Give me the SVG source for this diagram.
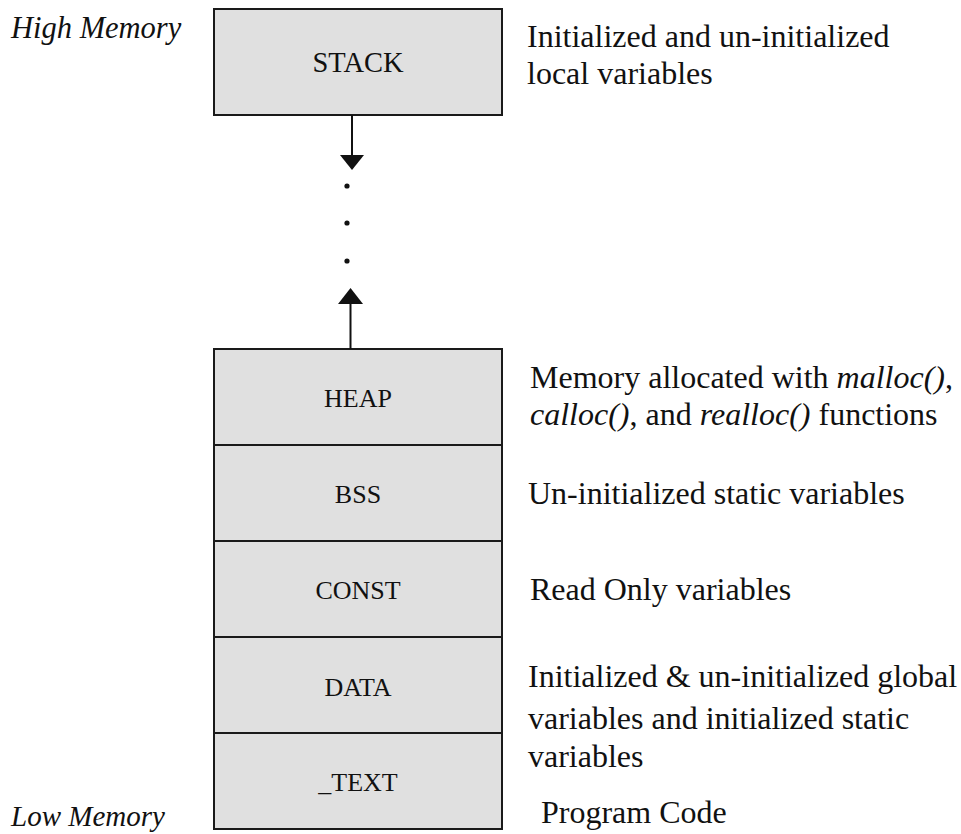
<svg xmlns="http://www.w3.org/2000/svg" width="961" height="834" viewBox="0 0 961 834">
  <style>
    .seg { fill: #e0e0e0; stroke: #1a1a1a; stroke-width: 2; }
    .lbl { font-family: "Liberation Serif", "Times New Roman", serif; font-size: 26px; fill: #111; text-anchor: middle; }
    .big { font-size: 28.5px; }
    .desc { font-family: "Liberation Serif", "Times New Roman", serif; font-size: 32px; fill: #111; }
    .side { font-family: "Liberation Serif", "Times New Roman", serif; font-style: italic; font-size: 30.5px; fill: #111; }
    .conn { stroke: #111; stroke-width: 2; fill: none; }
    .head { fill: #111; }
  </style>

  <!-- address labels -->
  <text class="side" x="11" y="38">High Memory</text>
  <text class="side" x="11" y="826" style="font-size:29px">Low Memory</text>

  <g id="stack">
    <rect class="seg" x="214" y="9" width="288" height="106"/>
    <text class="lbl big" x="358" y="72">STACK</text>
    <text class="desc" x="527" y="47">Initialized and un-initialized</text>
    <text class="desc" x="527" y="84">local variables</text>
  </g>

  <g id="heap">
    <rect class="seg" x="214" y="349" width="288" height="96"/>
    <text class="lbl" x="358" y="407">HEAP</text>
    <text class="desc" x="530" y="388">Memory allocated with <tspan font-style="italic">malloc()</tspan>,</text>
    <text class="desc" x="530" y="425"><tspan font-style="italic">calloc()</tspan>, and <tspan font-style="italic">realloc()</tspan> functions</text>
  </g>

  <g id="bss">
    <rect class="seg" x="214" y="445" width="288" height="96"/>
    <text class="lbl" x="358" y="503">BSS</text>
    <text class="desc" x="528" y="504">Un-initialized static variables</text>
  </g>

  <g id="const">
    <rect class="seg" x="214" y="541" width="288" height="96"/>
    <text class="lbl" x="358" y="599">CONST</text>
    <text class="desc" x="530" y="600">Read Only variables</text>
  </g>

  <g id="data">
    <rect class="seg" x="214" y="637" width="288" height="96"/>
    <text class="lbl" x="358" y="696">DATA</text>
    <text class="desc" x="528" y="687">Initialized &amp; un-initialized global</text>
    <text class="desc" x="528" y="729">variables and initialized static</text>
    <text class="desc" x="528" y="767">variables</text>
  </g>

  <g id="text">
    <rect class="seg" x="214" y="733" width="288" height="96"/>
    <text class="lbl" x="358" y="791">_TEXT</text>
    <text class="desc" x="541" y="823">Program Code</text>
  </g>

  <!-- growth arrows with the free gap between them -->
  <g id="connectors">
    <line class="conn" x1="352" y1="115" x2="352" y2="156"/>
    <polygon class="head" points="340,155 364,155 352,170"/>
    <polygon class="head" points="338,304 363,304 350.5,288"/>
    <line class="conn" x1="350.5" y1="303" x2="350.5" y2="349"/>
    <circle class="head" cx="347" cy="186" r="2.6"/>
    <circle class="head" cx="347" cy="223" r="2.6"/>
    <circle class="head" cx="347" cy="261" r="2.6"/>
  </g>
</svg>
